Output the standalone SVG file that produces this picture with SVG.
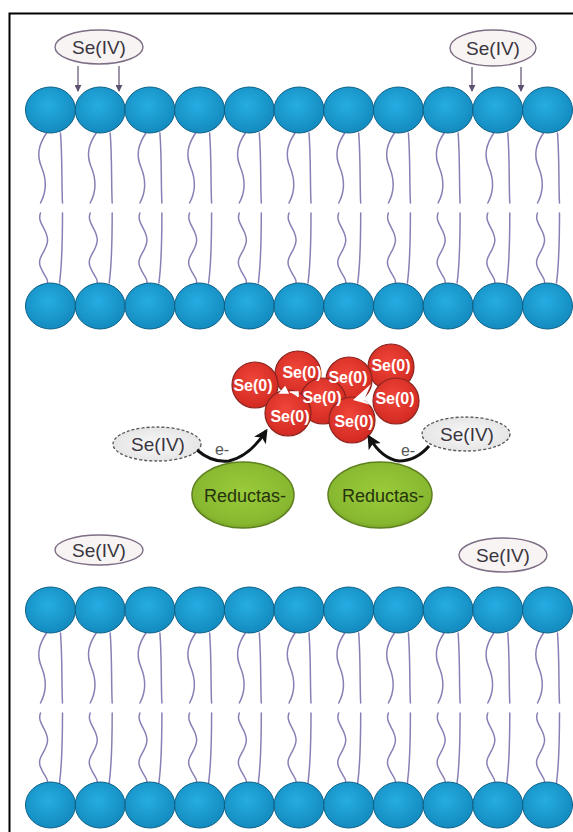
<svg xmlns="http://www.w3.org/2000/svg" xmlns:xlink="http://www.w3.org/1999/xlink" width="573" height="832" viewBox="0 0 573 832">
  <style>
    .frame { stroke: #000; stroke-width: 2; fill: none; }
    .head { fill: url(#headGrad); stroke: #0d5f86; stroke-width: 1; }
    .tail { fill: none; stroke: #8a7fb5; stroke-width: 1.5; stroke-linecap: round; }
    .ion { fill: #f7f4f3; stroke: #7d6d85; stroke-width: 1.4; }
    .ionDash { fill: url(#grayGrad); stroke: #555; stroke-width: 1.3; stroke-dasharray: 3 2; }
    .ionText { font-family: "Liberation Sans", Arial, sans-serif; font-size: 19px; fill: #3a3540; text-anchor: middle; }
    .seArrow { stroke: #5e5070; stroke-width: 1.2; fill: none; marker-end: url(#thinHead); }
    .eArrow { stroke: #111; stroke-width: 3; fill: none; marker-end: url(#boldHead); }
    .eText { font-family: "Liberation Sans", Arial, sans-serif; font-size: 16px; fill: #555; text-anchor: middle; }
    .se0 { fill: url(#redGrad); stroke: #8a2520; stroke-width: 1.2; }
    .se0Text { font-family: "Liberation Sans", Arial, sans-serif; font-size: 16px; font-weight: bold; fill: #fff; text-anchor: middle; }
    .enzyme { fill: url(#greenGrad); stroke: #5d7f1e; stroke-width: 1.5; }
    .enzText { font-family: "Liberation Sans", Arial, sans-serif; font-size: 18px; fill: #26330e; text-anchor: middle; }
  </style>
  <defs>
    <radialGradient id="headGrad" cx="45%" cy="40%" r="60%">
      <stop offset="0" stop-color="#26ade2"/>
      <stop offset="1" stop-color="#138bbf"/>
    </radialGradient>
    <radialGradient id="redGrad" cx="45%" cy="40%" r="60%">
      <stop offset="0" stop-color="#f0463a"/>
      <stop offset="1" stop-color="#d22a22"/>
    </radialGradient>
    <radialGradient id="greenGrad" cx="50%" cy="45%" r="60%">
      <stop offset="0" stop-color="#9acb3a"/>
      <stop offset="0.8" stop-color="#88b830"/>
      <stop offset="1" stop-color="#6f9a24"/>
    </radialGradient>
    <radialGradient id="grayGrad" cx="50%" cy="50%" r="60%">
      <stop offset="0" stop-color="#f8f8f8"/>
      <stop offset="1" stop-color="#e2e2e2"/>
    </radialGradient>
    <marker id="thinHead" viewBox="0 0 8 8" refX="7" refY="4" markerWidth="7" markerHeight="7" markerUnits="userSpaceOnUse" orient="auto">
      <path d="M0,0 L8,4 L0,8 z" fill="#5e5070"/>
    </marker>
    <marker id="boldHead" viewBox="0 0 10 10" refX="8" refY="5" markerWidth="14" markerHeight="14" markerUnits="userSpaceOnUse" orient="auto">
      <path d="M0,0 L10,5 L0,10 L2.5,5 z" fill="#111"/>
    </marker>
    <!-- lipid tails hanging between an outer head (y=0) and an inner head (y=196) -->
    <g id="tails">
      <path class="tail" d="M-4,23 C-12,35 -14,45 -9,57 S-3,80 -10,93"/>
      <path class="tail" d="M-10,103 C-14,113 -2,120 -3,131 S-14,147 -10,157 S-2,168 -3,173"/>
      <path class="tail" d="M10,23 C12,50 11,75 12,93"/>
      <path class="tail" d="M12,103 C12,130 12,150 9,173"/>
    </g>
    <g id="headRow">
      <ellipse class="head" cx="50.5" cy="0" rx="25" ry="23"/>
      <ellipse class="head" cx="100.2" cy="0" rx="25" ry="23"/>
      <ellipse class="head" cx="149.9" cy="0" rx="25" ry="23"/>
      <ellipse class="head" cx="199.6" cy="0" rx="25" ry="23"/>
      <ellipse class="head" cx="249.3" cy="0" rx="25" ry="23"/>
      <ellipse class="head" cx="299" cy="0" rx="25" ry="23"/>
      <ellipse class="head" cx="348.7" cy="0" rx="25" ry="23"/>
      <ellipse class="head" cx="398.4" cy="0" rx="25" ry="23"/>
      <ellipse class="head" cx="448.1" cy="0" rx="25" ry="23"/>
      <ellipse class="head" cx="497.8" cy="0" rx="25" ry="23"/>
      <ellipse class="head" cx="547.5" cy="0" rx="25" ry="23"/>
    </g>
    <g id="tailRow">
      <use href="#tails" x="50.5"/>
      <use href="#tails" x="100.2"/>
      <use href="#tails" x="149.9"/>
      <use href="#tails" x="199.6"/>
      <use href="#tails" x="249.3"/>
      <use href="#tails" x="299"/>
      <use href="#tails" x="348.7"/>
      <use href="#tails" x="398.4"/>
      <use href="#tails" x="448.1"/>
      <use href="#tails" x="497.8"/>
      <use href="#tails" x="547.5"/>
    </g>
  </defs>

  <rect width="573" height="832" fill="#fff"/>
  <path class="frame" d="M9.5,832 V13.5 H573"/>

  <!-- upper bilayer -->
  <g id="membrane-top">
    <use href="#tailRow" y="110"/>
    <use href="#headRow" y="110"/>
    <use href="#headRow" y="306"/>
  </g>

  <!-- lower bilayer -->
  <g id="membrane-bottom">
    <use href="#tailRow" y="610"/>
    <use href="#headRow" y="610"/>
    <use href="#headRow" y="805"/>
  </g>

  <g id="seiv-top-left">
    <ellipse class="ion" cx="99" cy="47" rx="44" ry="17"/>
    <text class="ionText" x="99" y="54">Se(IV)</text>
  </g>
  <g id="seiv-top-right">
    <ellipse class="ion" cx="493" cy="48" rx="43" ry="18"/>
    <text class="ionText" x="493" y="55">Se(IV)</text>
  </g>
  <g id="seiv-bottom-left">
    <ellipse class="ion" cx="99" cy="550" rx="44" ry="15"/>
    <text class="ionText" x="99" y="557">Se(IV)</text>
  </g>
  <g id="seiv-bottom-right">
    <ellipse class="ion" cx="503" cy="555" rx="44" ry="17"/>
    <text class="ionText" x="503" y="562">Se(IV)</text>
  </g>
  <g id="seiv-mid-left">
    <ellipse class="ionDash" cx="157" cy="444" rx="44" ry="17"/>
    <text class="ionText" x="158" y="451">Se(IV)</text>
  </g>
  <g id="seiv-mid-right">
    <ellipse class="ionDash" cx="466" cy="434" rx="44" ry="17"/>
    <text class="ionText" x="467" y="441">Se(IV)</text>
  </g>

  <!-- elemental selenium aggregate -->
  <g id="se0-cluster">
    <circle class="se0" cx="298" cy="374" r="23"/>
    <circle class="se0" cx="391" cy="367" r="23"/>
    <circle class="se0" cx="349" cy="380" r="23"/>
    <circle class="se0" cx="255" cy="385" r="23"/>
    <circle class="se0" cx="396" cy="401" r="23"/>
    <circle class="se0" cx="323" cy="401" r="23"/>
    <circle class="se0" cx="288" cy="413" r="23"/>
    <circle class="se0" cx="352" cy="420" r="23"/>
    <text class="se0Text" x="302" y="378">Se(0)</text>
    <text class="se0Text" x="391" y="371">Se(0)</text>
    <text class="se0Text" x="348" y="383">Se(0)</text>
    <text class="se0Text" x="253" y="391">Se(0)</text>
    <text class="se0Text" x="395" y="404">Se(0)</text>
    <text class="se0Text" x="322" y="403">Se(0)</text>
    <text class="se0Text" x="290" y="422">Se(0)</text>
    <text class="se0Text" x="354" y="427">Se(0)</text>
    <path d="M353,400 L371,384 L364,400 L371,405 z" fill="#fff"/>
    <path d="M280,393 L285,387 L288,393 z M290,392 H298 V397" fill="#fff" stroke="#fff" stroke-width="1.5"/>
  </g>

  <g id="reductase-left">
    <ellipse class="enzyme" cx="243" cy="495" rx="51" ry="33"/>
    <text class="enzText" x="245" y="502">Reductas-</text>
  </g>
  <g id="reductase-right">
    <ellipse class="enzyme" cx="380" cy="495" rx="52" ry="33"/>
    <text class="enzText" x="383" y="502">Reductas-</text>
  </g>

  <g id="connectors">
    <line class="seArrow" x1="78" y1="66" x2="78" y2="91"/>
    <line class="seArrow" x1="119" y1="66" x2="119" y2="91"/>
    <line class="seArrow" x1="472" y1="67" x2="472" y2="91"/>
    <line class="seArrow" x1="521" y1="67" x2="521" y2="91"/>
    <path class="eArrow" d="M197,450 Q212,463 229,461 Q250,456 266,431"/>
    <path class="eArrow" d="M429,446 Q416,461 399,461 Q382,459 369,437"/>
    <text class="eText" x="222" y="455">e-</text>
    <text class="eText" x="408" y="456">e-</text>
  </g>
</svg>
